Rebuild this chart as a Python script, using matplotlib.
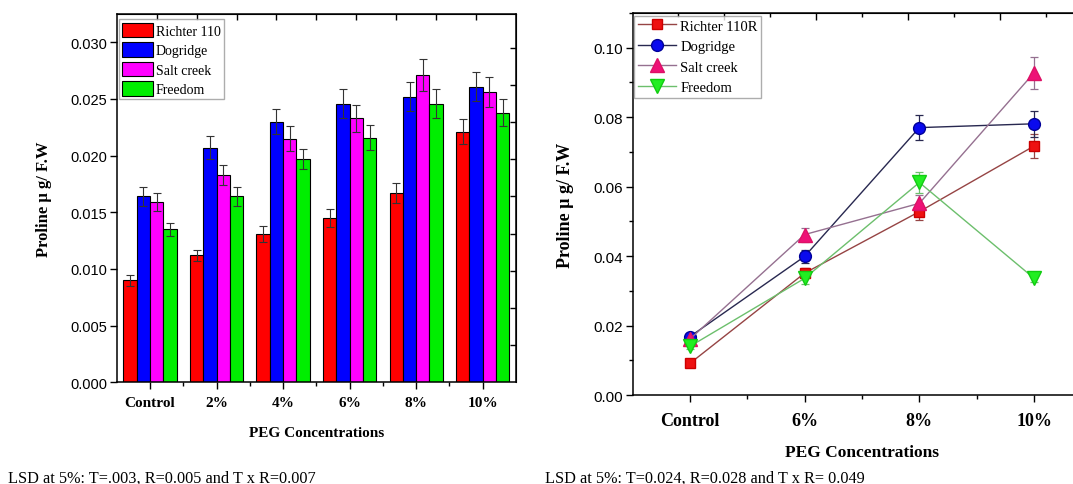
import matplotlib
matplotlib.use("Agg")
import matplotlib.pyplot as plt
from matplotlib.ticker import MultipleLocator, FixedLocator
import numpy as np

plt.rcParams['font.family'] = ['Liberation Serif', 'DejaVu Serif']

# ---- data: bar chart (6 PEG levels) ----
bar_levels = ['Control', '2%', '4%', '6%', '8%', '10%']
cultivars_bar = ['Richter 110', 'Dogridge', 'Salt creek', 'Freedom']
bar_richter = [0.0090, 0.0112, 0.0131, 0.0145, 0.0167, 0.0221]
bar_dogridge = [0.0164, 0.0207, 0.0230, 0.0246, 0.0252, 0.0261]
bar_saltcreek = [0.0159, 0.0183, 0.0215, 0.0233, 0.0271, 0.0256]
bar_freedom = [0.0135, 0.0164, 0.0197, 0.0216, 0.0246, 0.0238]
err_richter = [0.0005, 0.0005, 0.0007, 0.0008, 0.0009, 0.0011]
err_dogridge = [0.0008, 0.0010, 0.0011, 0.0013, 0.0013, 0.0013]
err_saltcreek = [0.0008, 0.0009, 0.0011, 0.0012, 0.0014, 0.0013]
err_freedom = [0.0006, 0.0008, 0.0009, 0.0011, 0.0013, 0.0012]

# ---- data: line chart (4 PEG levels) ----
line_levels = ['Control', '6%', '8%', '10%']
cultivars_line = ['Richter 110R', 'Dogridge', 'Salt creek', 'Freedom']
line_richter = [0.0091, 0.0351, 0.0528, 0.0717]
line_dogridge = [0.0168, 0.0399, 0.0770, 0.0781]
line_saltcreek = [0.0161, 0.0462, 0.0552, 0.0928]
line_freedom = [0.0140, 0.0336, 0.0612, 0.0336]
lerr_richter = [0.0008, 0.0015, 0.0025, 0.0035]
lerr_dogridge = [0.0008, 0.0020, 0.0037, 0.0038]
lerr_saltcreek = [0.0008, 0.0020, 0.0025, 0.0046]
lerr_freedom = [0.0008, 0.0015, 0.0030, 0.0010]

SANS = 'Liberation Sans'

fig = plt.figure(figsize=(10.73, 4.85), dpi=100)

# ================= bar chart =================
ax1 = fig.add_axes([0.1088, 0.2097, 0.3721, 0.7594])
x = np.arange(len(bar_levels))
w = 0.2
bar_sets = [
    (bar_richter, err_richter, '#ff0000'),
    (bar_dogridge, err_dogridge, '#0000ff'),
    (bar_saltcreek, err_saltcreek, '#ff00ff'),
    (bar_freedom, err_freedom, '#00ee00'),
]
for i, (vals, errs, col) in enumerate(bar_sets):
    xs = x + (i - 1.5) * w
    ax1.bar(xs, vals, width=w, color=col, edgecolor='black', linewidth=0.8,
            label=cultivars_bar[i], zorder=2)
    ax1.errorbar(xs, vals, yerr=errs, fmt='none', ecolor='#333333',
                 elinewidth=0.8, capsize=3, capthick=0.8, zorder=3)

ax1.set_xlim(-0.5, 5.5)
ax1.set_ylim(0, 0.0325)
ax1.set_xticks(x)
ax1.set_xticklabels(bar_levels, fontsize=11, fontweight='bold')
ax1.xaxis.set_minor_locator(FixedLocator(x[:-1] + 0.5))
ax1.yaxis.set_major_locator(MultipleLocator(0.005))
ax1.yaxis.set_major_formatter(matplotlib.ticker.FormatStrFormatter('%.3f'))
for lab in ax1.get_yticklabels():
    lab.set_fontfamily(SANS)
    lab.set_fontsize(10.5)
ax1.tick_params(axis='both', which='major', direction='out', length=5, width=1)
ax1.tick_params(axis='x', which='minor', direction='out', length=3, width=1)
ax1.tick_params(axis='y', pad=2)
ax1.tick_params(axis='x', pad=5)
for sp in ax1.spines.values():
    sp.set_linewidth(1.1)

ax1.set_xlabel('PEG Concentrations', fontsize=11, fontweight='bold', labelpad=12)
ax1.set_ylabel('Proline µ g/ F.W', fontsize=12, fontweight='bold', labelpad=13)

# secondary top / right scales with inward ticks
top1 = ax1.secondary_xaxis('top', functions=(lambda v: (v + 0.5) * 10 / 6,
                                             lambda t: t * 6 / 10 - 0.5))
top1.set_xticks(np.arange(1, 10))
top1.tick_params(direction='in', length=4, width=1, labeltop=False)
right1 = ax1.secondary_yaxis('right', functions=(lambda v: v / 0.00328,
                                                 lambda t: t * 0.00328))
right1.set_yticks(np.arange(1, 10))
right1.tick_params(direction='in', length=4, width=1, labelright=False)

leg1 = ax1.legend(loc='upper left', bbox_to_anchor=(0.005, 0.986),
                  borderaxespad=0, fontsize=10, frameon=True, fancybox=False,
                  edgecolor='#999999', handlelength=2.2, handleheight=1.25,
                  labelspacing=0.32, handletextpad=0.2, borderpad=0.25)
leg1.get_frame().set_linewidth(1.0)

# ================= line chart =================
ax2 = fig.add_axes([0.5895, 0.1835, 0.4277, 0.7876])
xl = np.arange(len(line_levels))
line_sets = [
    (line_richter, lerr_richter, 's', '#ee1111', '#cc0000', '#964444', 7),
    (line_dogridge, lerr_dogridge, 'o', '#0a0aee', '#000099', '#282850', 8.5),
    (line_saltcreek, lerr_saltcreek, '^', '#ee1177', '#dd1166', '#957090', 9.5),
    (line_freedom, lerr_freedom, 'v', '#22ee22', '#11cc11', '#6cbf6c', 9.5),
]
for i, (vals, errs, mk, fc, ec, lc, ms) in enumerate(line_sets):
    ax2.errorbar(xl, vals, yerr=errs, fmt='none', ecolor=lc, elinewidth=0.9,
                 capsize=3, capthick=0.9, zorder=2)
    ax2.plot(xl, vals, color=lc, linewidth=1.0, marker=mk, markersize=ms,
             markerfacecolor=fc, markeredgecolor=ec, label=cultivars_line[i],
             zorder=3)

ax2.set_xlim(-0.5, 3.5)
ax2.set_ylim(0, 0.11)
ax2.set_xticks(xl)
ax2.set_xticklabels(line_levels, fontsize=13, fontweight='bold')
ax2.xaxis.set_minor_locator(FixedLocator(xl[:-1] + 0.5))
ax2.yaxis.set_major_locator(MultipleLocator(0.02))
ax2.yaxis.set_minor_locator(MultipleLocator(0.01))
ax2.yaxis.set_major_formatter(matplotlib.ticker.FormatStrFormatter('%.2f'))
for lab in ax2.get_yticklabels():
    lab.set_fontfamily(SANS)
    lab.set_fontsize(11)
ax2.tick_params(axis='both', which='major', direction='out', length=5, width=1)
ax2.tick_params(axis='both', which='minor', direction='out', length=3, width=1)
ax2.tick_params(axis='y', pad=2)
ax2.tick_params(axis='x', pad=7)
for sp in ax2.spines.values():
    sp.set_linewidth(1.1)

ax2.set_xlabel('PEG Concentrations', fontsize=12.5, fontweight='bold', labelpad=11)
ax2.set_ylabel('Proline µ g/ F.W', fontsize=13, fontweight='bold', labelpad=14)

top2 = ax2.secondary_xaxis('top', functions=(lambda v: (v + 0.5) * 10 / 4,
                                             lambda t: t * 4 / 10 - 0.5))
top2.set_xticks([2, 4, 6, 8])
top2.set_xticks([1, 3, 5, 7, 9], minor=True)
top2.tick_params(which='major', direction='in', length=5, width=1, labeltop=False)
top2.tick_params(which='minor', direction='in', length=3, width=1)

leg2 = ax2.legend(loc='upper left', bbox_to_anchor=(0.004, 0.993),
                  borderaxespad=0, fontsize=10.5, frameon=True, fancybox=False,
                  edgecolor='#999999', handlelength=2.6, handletextpad=0.3,
                  labelspacing=0.5, borderpad=0.25)
leg2.get_frame().set_linewidth(1.0)

# LSD notes under each panel
fig.text(0.0075, 0.014, 'LSD at 5%: T=.003, R=0.005 and T x R=0.007',
         fontsize=11.7, va='center', ha='left')
fig.text(0.508, 0.014, 'LSD at 5%: T=0.024, R=0.028 and T x R= 0.049',
         fontsize=11.7, va='center', ha='left')

fig.savefig('out.png', dpi=100)
